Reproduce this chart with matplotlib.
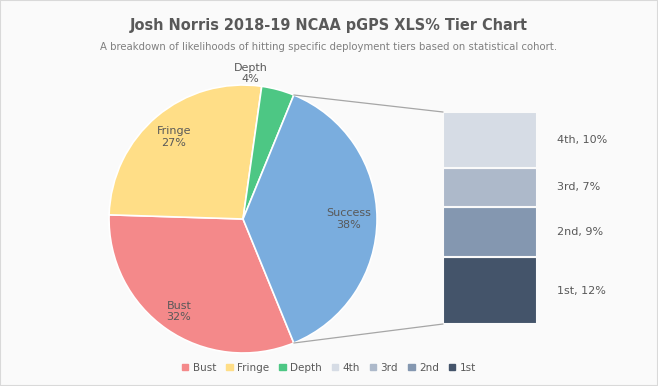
import numpy as np
import matplotlib
matplotlib.use("Agg")
import matplotlib.pyplot as plt
from matplotlib.patches import ConnectionPatch, Patch

# pie slices (Success is broken out into the bar)
pie_labels = ["Bust", "Fringe", "Depth", "Success"]
pie_values = [32, 27, 4, 38]
pie_colors = ["#F4898A", "#FFDE87", "#4DC784", "#7AADDE"]

# tiers inside Success, bottom to top
tier_labels = ["1st", "2nd", "3rd", "4th"]
tier_values = [12, 9, 7, 10]
tier_colors = ["#44546A", "#8497B0", "#ADB9CA", "#D6DCE5"]

txt = "#595959"
plt.rcParams["font.family"] = ["DejaVu Sans"]

fig = plt.figure(figsize=(6.58, 3.86), dpi=100, facecolor="#FAFAFA")

fig.text(0.5, 0.935, "Josh Norris 2018-19 NCAA pGPS XLS% Tier Chart", ha="center", va="center",
         fontsize=11.6, fontweight="bold", color=txt, fontstretch="condensed")
fig.text(0.5, 0.878, "A breakdown of likelihoods of hitting specific deployment tiers based on statistical cohort.",
         ha="center", va="center", fontsize=7.3, color="#7F7F7F")

# pie
ax = fig.add_axes([0.1657, 0.0855, 0.4073, 0.6943])
total = sum(pie_values)
start = -180.0 * pie_values[-1] / total
wedges, _ = ax.pie(pie_values, colors=pie_colors, startangle=start, counterclock=False,
                   wedgeprops=dict(edgecolor="white", linewidth=1.2))
ax.set_xlim(-1, 1)
ax.set_ylim(-1, 1)
ax.set_aspect("equal")
ax.axis("off")

dist = {"Bust": 0.84, "Fringe": 0.80, "Depth": 1.09, "Success": 0.79}
for w, lab, val in zip(wedges, pie_labels, pie_values):
    mid = (w.theta1 + w.theta2) / 2
    if lab == "Depth":
        mid = 87
    r = dist[lab]
    ax.text(r * np.cos(np.radians(mid)), r * np.sin(np.radians(mid)), f"{lab}\n{val}%",
            ha="center", va="center", fontsize=8, color=txt, linespacing=1.15)

# bar
bx = fig.add_axes([0.6733, 0.1606, 0.1429, 0.5492])
bottom = 0
for lab, val, col in zip(tier_labels, tier_values, tier_colors):
    bx.bar(0, val, width=1, bottom=bottom, color=col, edgecolor="#FAFAFA", linewidth=1.5)
    bx.annotate(f"{lab}, {val}%", xy=(0.5, bottom + val / 2), xytext=(20, 0),
                textcoords="offset pixels", ha="left", va="center", fontsize=8, color=txt)
    bottom += val
bx.set_xlim(-0.5, 0.5)
bx.set_ylim(0, bottom)
bx.axis("off")

# connector lines
sw = wedges[-1]
for ang, yb in [(sw.theta2, bottom), (sw.theta1, 0)]:
    p = (np.cos(np.radians(ang)), np.sin(np.radians(ang)))
    con = ConnectionPatch(xyA=p, coordsA=ax.transData, xyB=(-0.5, yb), coordsB=bx.transData,
                          color="#A6A6A6", linewidth=0.9)
    fig.add_artist(con)

# legend
handles = [Patch(color=c) for c in pie_colors[:3]] + [Patch(color=c) for c in tier_colors[::-1]]
names = pie_labels[:3] + tier_labels[::-1]
fig.legend(handles, names, loc="center", bbox_to_anchor=(0.5, 0.047), ncol=7, frameon=False,
           fontsize=7.5, handlelength=0.6, handleheight=0.6, handletextpad=0.4, columnspacing=1.0,
           labelcolor=txt)

fig.add_artist(plt.Rectangle((0, 0), 1, 1, transform=fig.transFigure, fill=False,
                             edgecolor="#D9D9D9", linewidth=1.5))

fig.savefig("out.png", dpi=100, facecolor=fig.get_facecolor())
